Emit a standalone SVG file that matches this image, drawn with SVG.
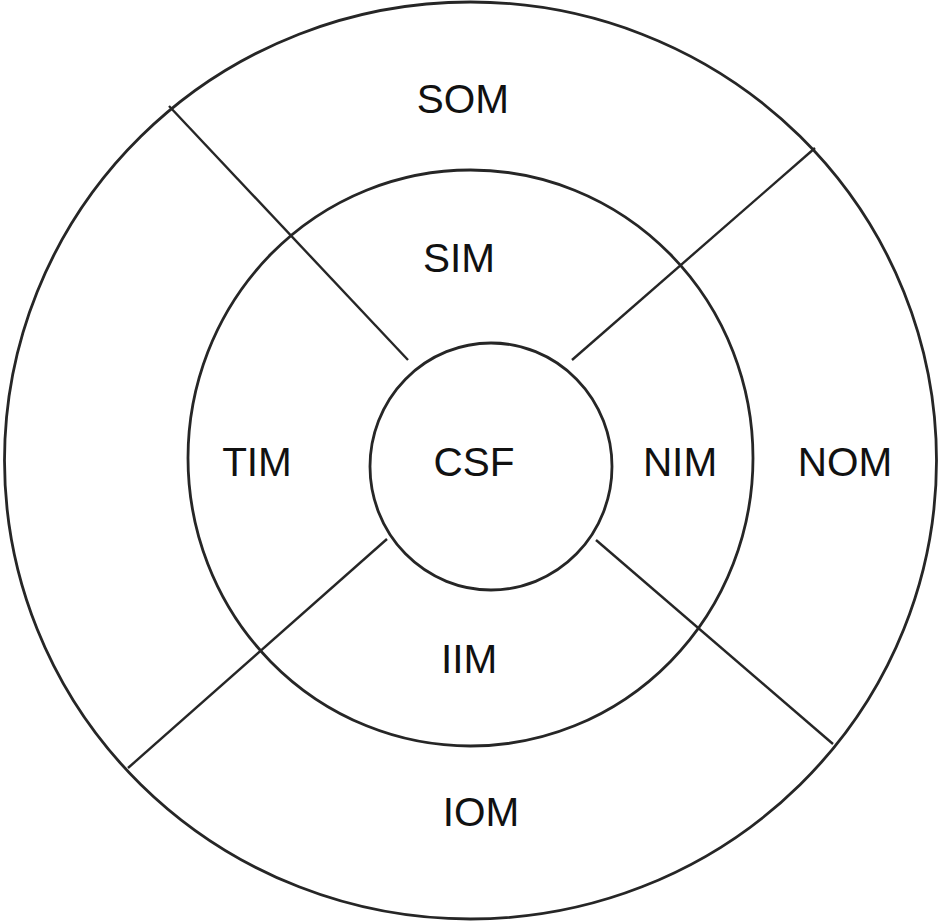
<svg xmlns="http://www.w3.org/2000/svg" width="942" height="924" viewBox="0 0 942 924">
<style>
.ring{fill:none;stroke:#262626;stroke-width:2.8}
.sep{stroke:#262626;stroke-width:2.4;fill:none}
.lbl{font-family:"Liberation Sans",Arial,sans-serif;font-size:40.5px;fill:#111;text-anchor:middle}
</style>
<rect width="942" height="924" fill="#fff"/>
<g id="connectors">
<line class="sep" x1="169" y1="106" x2="408" y2="360"/>
<line class="sep" x1="815" y1="148" x2="572" y2="360"/>
<line class="sep" x1="128" y1="768" x2="387" y2="539"/>
<line class="sep" x1="596" y1="540" x2="833" y2="744"/>
</g>
<g id="outer"><ellipse class="ring" cx="470.5" cy="460.5" rx="466" ry="458.5"/></g>
<g id="middle"><ellipse class="ring" cx="470.5" cy="458" rx="282.5" ry="288"/></g>
<g id="CSF"><ellipse class="ring" cx="491" cy="466.5" rx="121" ry="123.5"/><text class="lbl" x="474" y="476">CSF</text></g>
<g id="SOM"><text class="lbl" x="463" y="113">SOM</text></g>
<g id="SIM"><text class="lbl" x="459" y="272">SIM</text></g>
<g id="TIM"><text class="lbl" x="257" y="476">TIM</text></g>
<g id="NIM"><text class="lbl" x="680" y="476">NIM</text></g>
<g id="NOM"><text class="lbl" x="845" y="476">NOM</text></g>
<g id="IIM"><text class="lbl" x="469" y="673">IIM</text></g>
<g id="IOM"><text class="lbl" x="481" y="826">IOM</text></g>
</svg>
